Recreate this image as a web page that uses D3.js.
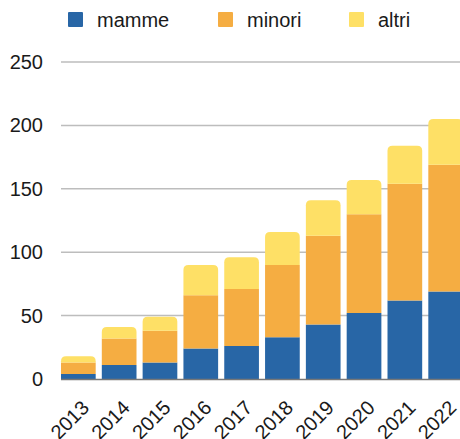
<!DOCTYPE html>
<html>
<head>
<meta charset="utf-8">
<script src="https://cdn.jsdelivr.net/npm/d3@7"></script>
<style>
  html, body { margin: 0; padding: 0; background: #fff; }
  #graf { width: 460px; height: 439px; overflow: hidden; }
  text { font-family: "Liberation Sans", Arial, sans-serif; fill: #1a1a1a; }
</style>
</head>
<body>
<div id="graf"></div>
<script>
// Dati
const anni = ["2013", "2014", "2015", "2016", "2017", "2018", "2019", "2020", "2021", "2022"]
const mamme = [4, 11, 13, 24, 26, 33, 43, 52, 62, 69]
const minori = [9, 21, 25, 42, 45, 57, 70, 78, 92, 100]
const altri = [5, 9, 11, 24, 25, 26, 28, 27, 30, 36]
const serie = ["mamme", "minori", "altri"]
const colori = ["#2866a6", "#f5ad42", "#fee066"]
const ticksY = [0, 50, 100, 150, 200, 250]

const data = anni.map((a, i) => ({ anno: a, mamme: mamme[i], minori: minori[i], altri: altri[i] }))

// Dimensioni
const anchoTotal = 460
const altoTotal = 439
const margins = { top: 62, left: 61, bottom: 60 }
const base = altoTotal - margins.bottom // 379

const svg = d3.select("#graf")
  .append("svg")
  .attr("width", anchoTotal)
  .attr("height", altoTotal)

// Scale
const x = d3.scaleBand().domain(anni).range([margins.left, 463]).paddingInner(0.15).paddingOuter(0)
const y = d3.scaleLinear().domain([0, 250]).range([base, margins.top])
const color = d3.scaleOrdinal().domain(serie).range(colori)

// Griglia
svg.append("g")
  .selectAll("line")
  .data(ticksY.filter((d) => d > 0))
  .join("line")
  .attr("x1", margins.left)
  .attr("x2", anchoTotal)
  .attr("y1", (d) => y(d))
  .attr("y2", (d) => y(d))
  .attr("stroke", "#bdbdbd")
  .attr("stroke-width", 1.5)

// Asse Y
const yAxis = svg.append("g")
  .attr("transform", `translate(${margins.left}, 0)`)
  .call(d3.axisLeft(y).tickValues(ticksY).tickSize(0).tickPadding(18))
yAxis.select(".domain").remove()
yAxis.selectAll("text")
  .style("font-size", "20px")
  .attr("fill", "#1a1a1a")

// Barre impilate
const stack = d3.stack().keys(serie)(data)
const r = 5

const pathBarra = (x0, w, yTop, yBot, arrotonda) => {
  if (!arrotonda) return `M${x0},${yBot}V${yTop}H${x0 + w}V${yBot}Z`
  const rr = Math.min(r, (yBot - yTop))
  return `M${x0},${yBot}V${yTop + rr}Q${x0},${yTop} ${x0 + rr},${yTop}` +
    `H${x0 + w - rr}Q${x0 + w},${yTop} ${x0 + w},${yTop + rr}V${yBot}Z`
}

svg.append("g")
  .selectAll("g")
  .data(stack)
  .join("g")
  .attr("fill", (s) => color(s.key))
  .selectAll("path")
  .data((s) => s.map((d) => ({ d, key: s.key })))
  .join("path")
  .attr("d", (o) => pathBarra(
    x(o.d.data.anno), x.bandwidth(), y(o.d[1]), y(o.d[0]), o.key === "altri"))

// Linea di base
svg.append("line")
  .attr("x1", margins.left)
  .attr("x2", anchoTotal)
  .attr("y1", base + 0.5)
  .attr("y2", base + 0.5)
  .attr("stroke", "#777")
  .attr("stroke-width", 1.5)

// Etichette asse X
svg.append("g")
  .selectAll("text")
  .data(anni)
  .join("text")
  .attr("transform", (d) => `translate(${x(d) + x.bandwidth() / 2 + 12}, ${base + 30}) rotate(-45)`)
  .attr("text-anchor", "end")
  .style("font-size", "20px")
  .text((d) => d)

// Legenda
const legX = [68, 218, 349]
const leg = svg.append("g")
  .selectAll("g")
  .data(serie)
  .join("g")
  .attr("transform", (d, i) => `translate(${legX[i]}, 12)`)
leg.append("rect")
  .attr("width", 15)
  .attr("height", 15)
  .attr("rx", 1)
  .attr("fill", (d) => color(d))
leg.append("text")
  .attr("x", 29)
  .attr("y", 15)
  .style("font-size", "20px")
  .text((d) => d)
</script>
</body>
</html>
